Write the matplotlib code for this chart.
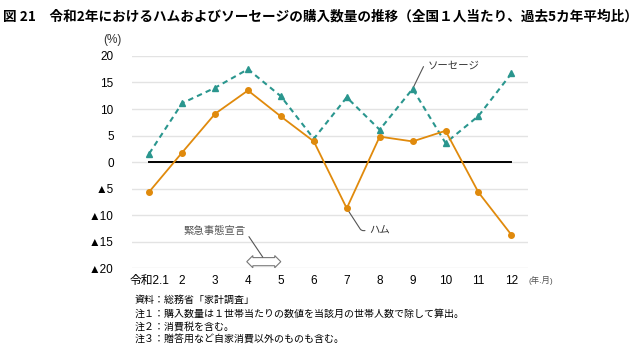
import matplotlib
matplotlib.use("Agg")
import matplotlib.pyplot as plt

plt.rcParams['font.family'] = ['Liberation Sans', 'Noto Sans CJK JP', 'DejaVu Sans']

months = [1, 2, 3, 4, 5, 6, 7, 8, 9, 10, 11, 12]
month_labels = ["令和2.1", "2", "3", "4", "5", "6", "7", "8", "9", "10", "11", "12"]
ham = [-5.6, 1.8, 9.1, 13.5, 8.6, 3.9, -8.7, 4.8, 3.9, 5.9, -5.7, -13.7]
sausage = [1.6, 11.1, 14.0, 17.5, 12.4, 4.4, 12.2, 6.1, 13.8, 3.6, 8.7, 16.7]
yticks = [20, 15, 10, 5, 0, -5, -10, -15, -20]
ytick_labels = ["20", "15", "10", "5", "0", "▲5", "▲10", "▲15", "▲20"]

title = "図 21　令和2年におけるハムおよびソーセージの購入数量の推移（全国１人当たり、過去5カ年平均比）"
notes = [
    "資料：総務省「家計調査」",
    "注１：購入数量は１世帯当たりの数値を当該月の世帯人数で除して算出。",
    "注２：消費税を含む。",
    "注３：贈答用など自家消費以外のものも含む。",
]

ham_color = "#E08A0C"
sausage_color = "#2A968E"

fig = plt.figure(figsize=(6.4, 3.51), dpi=100)
ax = fig.add_axes([0.2058, 0.2356, 0.619, 0.605])

ax.set_xlim(0.47, 12.5)
ax.set_ylim(-20, 20)
ax.set_yticks(yticks)
ax.set_yticklabels(ytick_labels)
ax.set_xticks(months)
ax.set_xticklabels(month_labels)
ax.tick_params(axis="both", length=0, labelsize=8.5)
ax.tick_params(axis="y", pad=13)
ax.tick_params(axis="x", pad=5)
for s in ax.spines.values():
    s.set_visible(False)

ax.grid(axis="y", color="#e3e3e3", lw=1.0)
ax.plot([months[0], months[-1]], [0, 0], color="black", lw=1.4, zorder=2)

ax.plot(months, ham, color=ham_color, lw=1.3, marker="o", ms=4, zorder=4)
ax.plot(months, sausage, color=sausage_color, lw=1.5, ls=(0, (2.6, 2.0)),
        marker="^", ms=4.5, zorder=3)

# labels with leader lines
ax.annotate("ハム", xy=(7, ham[6]), xytext=(7.68, -12.9), fontsize=7.5, color="#333333",
            va="center", ha="left",
            arrowprops=dict(arrowstyle="-", color="#555555", lw=0.8,
                            connectionstyle="angle,angleA=0,angleB=-57,rad=2",
                            shrinkA=1, shrinkB=2))
ax.annotate("ソーセージ", xy=(9, sausage[8]), xytext=(9.45, 18.2), fontsize=7.5, color="#333333",
            va="center", ha="left",
            arrowprops=dict(arrowstyle="-", color="#555555", lw=0.8,
                            connectionstyle="angle,angleA=0,angleB=64,rad=2",
                            shrinkA=1, shrinkB=2))

# state of emergency (April-May)
ax.text(4.48, -18.75, "　　　　", fontsize=4.5, ha="center", va="center",
        bbox=dict(boxstyle="darrow,pad=0.25", fc="white", ec="#777777", lw=0.8))
ax.annotate("緊急事態宣言", xy=(4.45, -17.9), xytext=(3.0, -12.9), fontsize=7.5,
            color="#555555", ha="center", va="center",
            arrowprops=dict(arrowstyle="-", color="#555555", lw=0.8,
                            connectionstyle="angle,angleA=0,angleB=-56,rad=2",
                            shrinkA=0, shrinkB=0))

fig.text(0.005, 0.952, title, fontsize=9.8, fontweight="bold", ha="left", va="center",
         family=["Noto Sans CJK JP", "DejaVu Sans"])
fig.text(0.162, 0.885, "(%)", fontsize=8.5, ha="left", va="center", color="#333333")
fig.text(0.826, 0.2, "(年.月)", fontsize=6, ha="left", va="center", color="#555555")

for i, line in enumerate(notes):
    fig.text(0.21, 0.145 - i * 0.038, line, fontsize=7.2, ha="left", va="center",
             family=["Noto Sans CJK JP", "DejaVu Sans"])

fig.savefig("out.png", dpi=100)
